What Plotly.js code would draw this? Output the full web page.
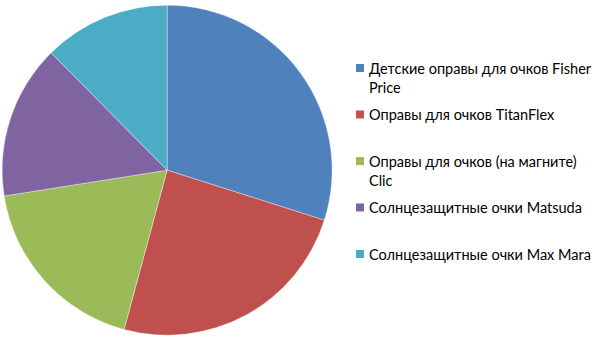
<!DOCTYPE html>
<html><head><meta charset="utf-8">
<script src="https://cdn.plot.ly/plotly-3.0.1.min.js"></script>
<style>body{margin:0;padding:0;background:#fff}#chart{width:600px;height:345px}</style>
</head><body><div id="chart"></div>
<script>
const labels = [
  "Детские оправы для очков Fisher Price",
  "Оправы для очков TitanFlex",
  "Оправы для очков (на магните) Clic",
  "Солнцезащитные очки Matsuda",
  "Солнцезащитные очки Max Mara"
];
const legendLines = [
  ["Детские оправы для очков Fisher", "Price"],
  ["Оправы для очков TitanFlex"],
  ["Оправы для очков (на магните)", "Clic"],
  ["Солнцезащитные очки Matsuda"],
  ["Солнцезащитные очки Max Mara"]
];
const values = [29.9, 24.3, 18.3, 15.1, 12.4];
const colors = ["#4F81BD", "#C0504D", "#9BBB59", "#8064A2", "#4BACC6"];

const W = 600, H = 345;
const px = x => x / W, py = y => 1 - y / H;

const legendTop = 68, legendStep = 46.5, sq = 8, sqX = 356, textX = 367;
const fontSize = 14.5, lineH = 19;

const shapes = [], annotations = [];
labels.forEach((lab, i) => {
  const cy = legendTop + i * legendStep;
  shapes.push({type: "rect", xref: "paper", yref: "paper",
    x0: px(sqX), x1: px(sqX + sq), y0: py(cy - sq / 2), y1: py(cy + sq / 2),
    fillcolor: colors[i], line: {width: 0}});
  legendLines[i].forEach((ln, j) => {
    annotations.push({xref: "paper", yref: "paper", x: px(textX), y: py(cy + j * lineH),
      xanchor: "left", yanchor: "middle", showarrow: false, text: ln,
      font: {family: "Lato, 'Open Sans', sans-serif", size: fontSize, color: "#000"}});
  });
});

const data = [{
  type: "pie", labels: labels, values: values, sort: false, direction: "clockwise",
  rotation: 0, textinfo: "none", hoverinfo: "label+percent",
  marker: {colors: colors, line: {color: "rgba(255,255,255,0.6)", width: 0.6}},
  domain: {x: [0.0025, 0.5545], y: [0.0285, 0.985]}
}];
const layout = {
  width: W, height: H, margin: {l: 0, r: 0, t: 0, b: 0},
  paper_bgcolor: "#fff", showlegend: false, shapes: shapes, annotations: annotations
};
Plotly.newPlot("chart", data, layout, {displayModeBar: false, staticPlot: true});
</script></body></html>
